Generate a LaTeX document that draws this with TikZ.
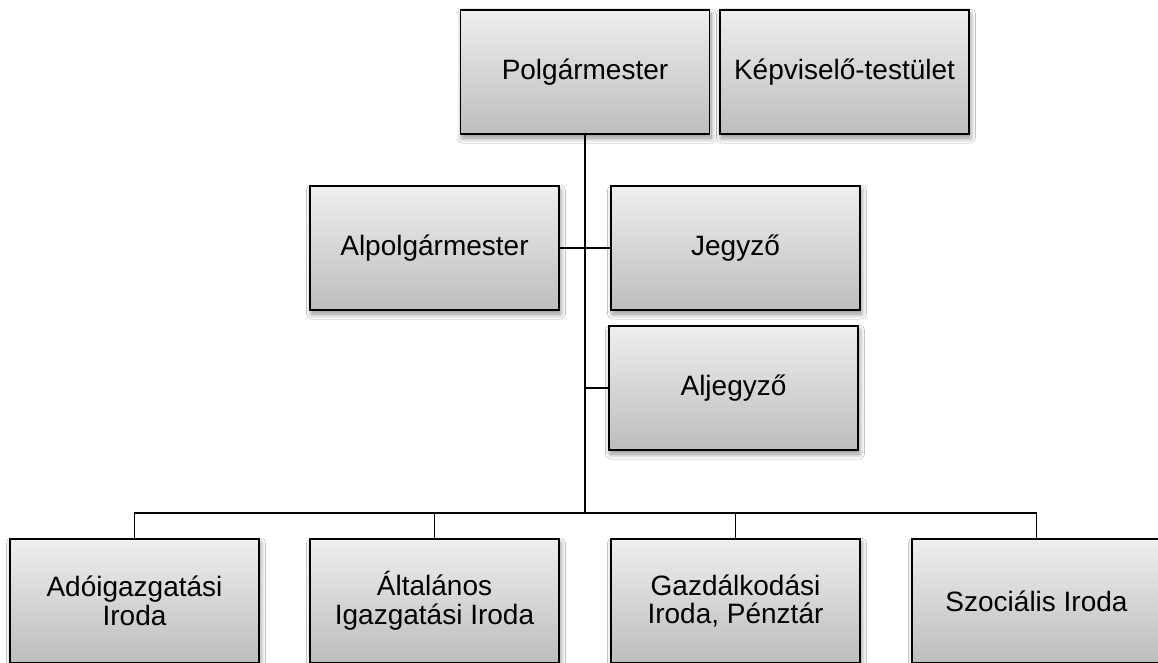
\documentclass[tikz,border=0pt]{standalone}
\usepackage{fontspec}
\setmainfont{Liberation Sans}
\usetikzlibrary{shadows.blur}
\begin{document}
\begin{tikzpicture}[x=1pt,y=-1pt,
  box/.style={draw=black, line width=1.3pt, minimum width=249pt, minimum height=124pt,
    inner sep=0pt, top color=gray!13, bottom color=gray!52, align=center,
    font=\fontsize{28}{28.5}\selectfont,
    blur shadow={shadow xshift=1.5pt, shadow yshift=-4pt, shadow blur steps=10,
      shadow opacity=45, shadow blur radius=5pt}},
  conn/.style={line width=1.1pt},
  mainline/.style={line width=2pt}]
\useasboundingbox (0,0) rectangle (1158,663);
\fill[white] (0,0) rectangle (1158,663);

\node[box] (pm) at (585,72) {Polgármester};
\node[box] (kt) at (844.5,72) {Képviselő-testület};
\node[box] (alp) at (434.5,248) {Alpolgármester};
\node[box] (jeg) at (735.5,248) {Jegyző};
\node[box] (alj) at (733.5,388) {Aljegyző};

\node[box] (b1) at (134.5,601) {Adóigazgatási\\Iroda};
\node[box] (b2) at (434.5,601) {Általános\\Igazgatási Iroda};
\node[box] (b3) at (735.5,601) {Gazdálkodási\\Iroda, Pénztár};
\node[box] (b4) at (1036.5,601) {Szociális Iroda};

\coordinate (bus) at (585,513);

\draw[mainline] (pm.south) -- (bus);
\draw[conn] (alp.east) -- (jeg.west);
\draw[conn] (alj.west) -- (alj.west -| bus);
\draw[conn] (b1.north) |- (bus) -| (b4.north);
\draw[conn] (b2.north) -- (b2.north |- bus);
\draw[conn] (b3.north) -- (b3.north |- bus);
\end{tikzpicture}
\end{document}
